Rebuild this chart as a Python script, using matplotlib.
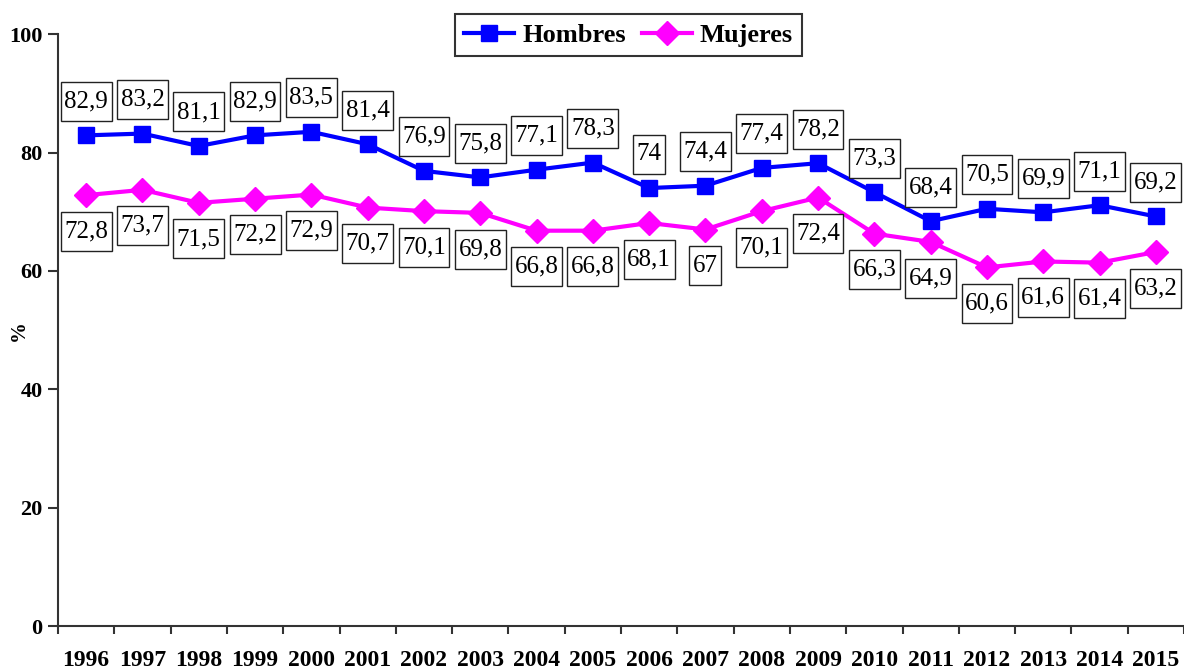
import matplotlib
matplotlib.use('Agg')
import matplotlib.pyplot as plt
from matplotlib.path import Path
import numpy as np

# tasa de actividad por sexo
years = ['1996', '1997', '1998', '1999', '2000', '2001', '2002', '2003', '2004', '2005',
         '2006', '2007', '2008', '2009', '2010', '2011', '2012', '2013', '2014', '2015']
hombres = [82.9, 83.2, 81.1, 82.9, 83.5, 81.4, 76.9, 75.8, 77.1, 78.3,
           74.0, 74.4, 77.4, 78.2, 73.3, 68.4, 70.5, 69.9, 71.1, 69.2]
mujeres = [72.8, 73.7, 71.5, 72.2, 72.9, 70.7, 70.1, 69.8, 66.8, 66.8,
           68.1, 67.0, 70.1, 72.4, 66.3, 64.9, 60.6, 61.6, 61.4, 63.2]

plt.rcParams['font.family'] = ['Liberation Serif', 'DejaVu Serif']


def fmt(v):
	# coma decimal, sin ",0"
	if v == int(v):
		return '%d' % v
	return ('%.1f' % v).replace('.', ',')


def tall_box(x0, y0, width, height, mutation_size):
	# caja rectangular con mas relleno vertical que horizontal
	px = 0.14 * mutation_size
	py = 0.34 * mutation_size
	x0, y0 = x0 - px, y0 - py
	x1, y1 = x0 + width + 2 * px, y0 + height + 2 * py
	return Path([(x0, y0), (x1, y0), (x1, y1), (x0, y1), (x0, y0)], closed=True)


def label_points(ax, x, y, offset):
	box = dict(boxstyle=tall_box, facecolor='white', edgecolor='#222222', linewidth=1.0)
	for a, b in zip(x, y):
		ax.annotate(fmt(b), (a, b), xytext=(0, offset), textcoords='offset points',
		            ha='center', va='center', fontsize=18, bbox=box, zorder=5)


fig = plt.figure(figsize=(11.84, 6.69), dpi=100)
ax = fig.add_axes([0.049, 0.064, 0.951, 0.885])

x = np.arange(len(years))
ax.plot(x, hombres, color='#0000ff', linewidth=3, marker='s', markersize=11, label='Hombres', zorder=3)
ax.plot(x, mujeres, color='#ff00ff', linewidth=3, marker='D', markersize=12, label='Mujeres', zorder=3)

label_points(ax, x, hombres, 24.5)
label_points(ax, x, mujeres, -26)

ax.set_xlim(-0.5, len(years) - 0.5)
ax.set_ylim(0, 100)
ax.set_yticks(np.arange(0, 101, 20))
ax.set_xticks(x)
ax.set_xticklabels(years, fontsize=17, fontweight='bold')
ax.set_xticks(np.arange(-0.5, len(years), 1), minor=True)
ax.tick_params(axis='x', which='major', length=0, pad=17)
ax.tick_params(axis='x', which='minor', length=6, width=1.5, color='#333333', direction='out')
ax.tick_params(axis='y', length=7, width=1.5, color='#333333', labelsize=16, pad=4)
for t in ax.get_yticklabels():
	t.set_fontweight('bold')
ax.set_ylabel('%', fontsize=15, fontweight='bold')
ax.yaxis.set_label_coords(-0.026, 0.5)

for s in ['top', 'right']:
	ax.spines[s].set_visible(False)
for s in ['left', 'bottom']:
	ax.spines[s].set_color('#333333')
	ax.spines[s].set_linewidth(1.5)

leg = ax.legend(loc='upper center', bbox_to_anchor=(0.531, 0.979), bbox_transform=fig.transFigure,
                ncol=2, frameon=True, fancybox=False, prop={'weight': 'bold', 'size': 19},
                handlelength=1.9, columnspacing=0.6, handletextpad=0.3, borderpad=0.35,
                borderaxespad=0)
leg.get_frame().set_edgecolor('black')
leg.get_frame().set_linewidth(1.5)

fig.savefig('out.png', dpi=100)
